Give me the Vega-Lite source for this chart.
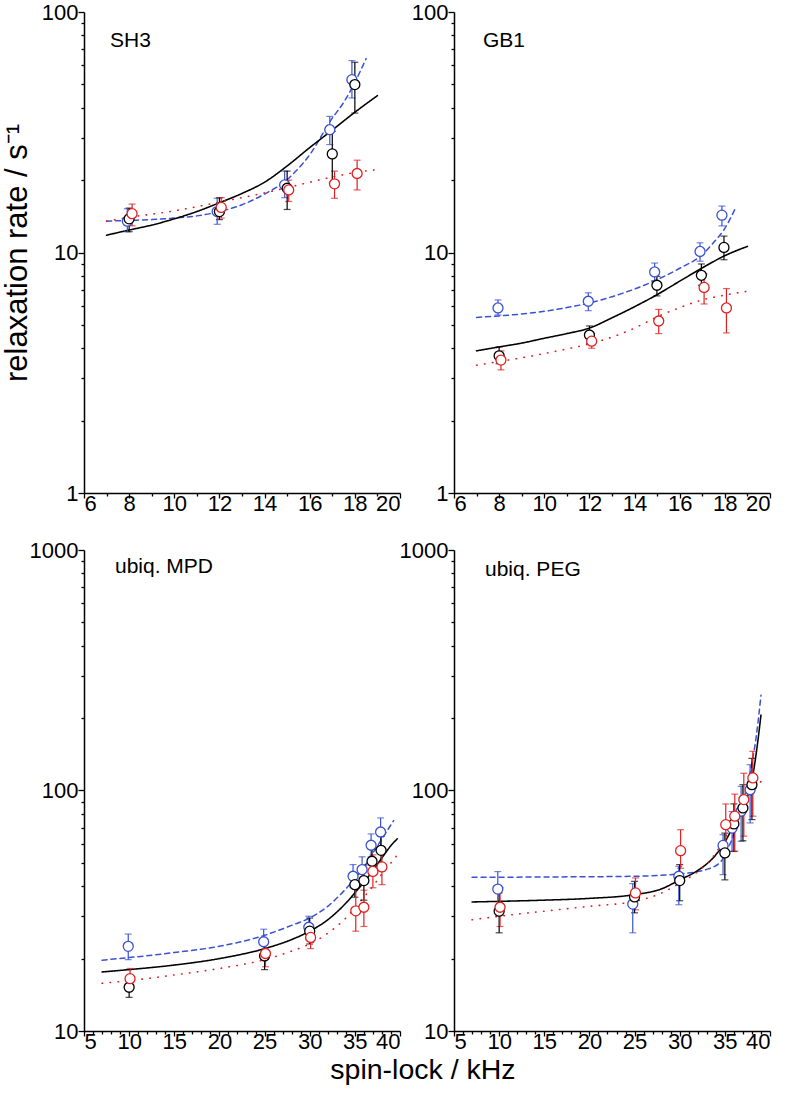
{
"$schema":"https://vega.github.io/schema/vega-lite/v6.json",
"padding":{"left":1,"top":1,"right":5,"bottom":5},
"config":{"view":{"stroke":null},"font":"Liberation Sans",
"axis":{"domainColor":"black","domainWidth":1.5,"tickColor":"black","tickWidth":1.3,"labelColor":"black","labelFont":"Liberation Sans","labelFontSize":22,"grid":false,"titleFont":"Liberation Sans","titleFontSize":31,"titleFontWeight":"normal","titleColor":"black","labelOverlap":false},
"axisX":{"labelPadding":-5},"axisY":{"labelPadding":0}},
"title":{"text":"spin-lock / kHz","orient":"bottom","anchor":"middle","offset":4,"dx":37,"fontSize":28.5,"font":"Liberation Sans","fontWeight":"normal","color":"black"},
"datasets":{
"fit":[
{"panel":"SH3","series":"blue","x":7,"y":13.5},{"panel":"SH3","series":"blue","x":8,"y":13.6},{"panel":"SH3","series":"blue","x":9,"y":13.7},{"panel":"SH3","series":"blue","x":10,"y":13.9},{"panel":"SH3","series":"blue","x":11,"y":14.2},{"panel":"SH3","series":"blue","x":12,"y":14.8},{"panel":"SH3","series":"blue","x":13,"y":15.8},{"panel":"SH3","series":"blue","x":14,"y":17.5},{"panel":"SH3","series":"blue","x":15,"y":20.1},{"panel":"SH3","series":"blue","x":16,"y":25.5},{"panel":"SH3","series":"blue","x":17,"y":36.2},{"panel":"SH3","series":"blue","x":17.5,"y":42},{"panel":"SH3","series":"blue","x":18,"y":51},{"panel":"SH3","series":"blue","x":18.5,"y":64},
{"panel":"SH3","series":"black","x":7,"y":11.8},{"panel":"SH3","series":"black","x":8,"y":12.4},{"panel":"SH3","series":"black","x":9,"y":13.0},{"panel":"SH3","series":"black","x":10,"y":13.8},{"panel":"SH3","series":"black","x":11,"y":14.8},{"panel":"SH3","series":"black","x":12,"y":16.1},{"panel":"SH3","series":"black","x":13,"y":17.6},{"panel":"SH3","series":"black","x":14,"y":19.6},{"panel":"SH3","series":"black","x":15,"y":22.9},{"panel":"SH3","series":"black","x":16,"y":27.3},{"panel":"SH3","series":"black","x":17,"y":32.3},{"panel":"SH3","series":"black","x":18,"y":38.3},{"panel":"SH3","series":"black","x":19,"y":44.9},
{"panel":"SH3","series":"red","x":7,"y":13.5},{"panel":"SH3","series":"red","x":8,"y":14.0},{"panel":"SH3","series":"red","x":10,"y":14.9},{"panel":"SH3","series":"red","x":12,"y":16.2},{"panel":"SH3","series":"red","x":14,"y":17.7},{"panel":"SH3","series":"red","x":15,"y":18.6},{"panel":"SH3","series":"red","x":16,"y":19.6},{"panel":"SH3","series":"red","x":17,"y":20.6},{"panel":"SH3","series":"red","x":18,"y":21.5},{"panel":"SH3","series":"red","x":19,"y":22.1},
{"panel":"GB1","series":"blue","x":7,"y":5.37},{"panel":"GB1","series":"blue","x":8,"y":5.45},{"panel":"GB1","series":"blue","x":9,"y":5.55},{"panel":"GB1","series":"blue","x":10,"y":5.7},{"panel":"GB1","series":"blue","x":11,"y":5.9},{"panel":"GB1","series":"blue","x":12,"y":6.17},{"panel":"GB1","series":"blue","x":13,"y":6.55},{"panel":"GB1","series":"blue","x":14,"y":7.05},{"panel":"GB1","series":"blue","x":15,"y":7.71},{"panel":"GB1","series":"blue","x":16,"y":8.6},{"panel":"GB1","series":"blue","x":17,"y":9.8},{"panel":"GB1","series":"blue","x":17.5,"y":11},{"panel":"GB1","series":"blue","x":18,"y":12.6},{"panel":"GB1","series":"blue","x":18.5,"y":15.5},
{"panel":"GB1","series":"black","x":7,"y":3.9},{"panel":"GB1","series":"black","x":8,"y":4.05},{"panel":"GB1","series":"black","x":9,"y":4.2},{"panel":"GB1","series":"black","x":10,"y":4.4},{"panel":"GB1","series":"black","x":11,"y":4.6},{"panel":"GB1","series":"black","x":12,"y":4.85},{"panel":"GB1","series":"black","x":13,"y":5.35},{"panel":"GB1","series":"black","x":14,"y":5.95},{"panel":"GB1","series":"black","x":15,"y":6.68},{"panel":"GB1","series":"black","x":16,"y":7.6},{"panel":"GB1","series":"black","x":17,"y":8.63},{"panel":"GB1","series":"black","x":18,"y":9.7},{"panel":"GB1","series":"black","x":19,"y":10.6},
{"panel":"GB1","series":"red","x":7,"y":3.4},{"panel":"GB1","series":"red","x":8,"y":3.52},{"panel":"GB1","series":"red","x":9,"y":3.65},{"panel":"GB1","series":"red","x":10,"y":3.8},{"panel":"GB1","series":"red","x":11,"y":3.97},{"panel":"GB1","series":"red","x":12,"y":4.17},{"panel":"GB1","series":"red","x":13,"y":4.45},{"panel":"GB1","series":"red","x":14,"y":4.85},{"panel":"GB1","series":"red","x":15,"y":5.4},{"panel":"GB1","series":"red","x":16,"y":5.9},{"panel":"GB1","series":"red","x":17,"y":6.35},{"panel":"GB1","series":"red","x":18,"y":6.65},{"panel":"GB1","series":"red","x":19,"y":6.9},
{"panel":"MPD","series":"blue","x":7,"y":19.7},{"panel":"MPD","series":"blue","x":10,"y":20.2},{"panel":"MPD","series":"blue","x":15,"y":21.2},{"panel":"MPD","series":"blue","x":20,"y":22.5},{"panel":"MPD","series":"blue","x":25,"y":25},{"panel":"MPD","series":"blue","x":28,"y":27.5},{"panel":"MPD","series":"blue","x":30,"y":29.5},{"panel":"MPD","series":"blue","x":32,"y":33},{"panel":"MPD","series":"blue","x":34,"y":39},{"panel":"MPD","series":"blue","x":35,"y":43},{"panel":"MPD","series":"blue","x":36,"y":48},{"panel":"MPD","series":"blue","x":37,"y":55},{"panel":"MPD","series":"blue","x":38,"y":63},{"panel":"MPD","series":"blue","x":39,"y":72},{"panel":"MPD","series":"blue","x":39.3,"y":75},
{"panel":"MPD","series":"black","x":7,"y":17.6},{"panel":"MPD","series":"black","x":10,"y":18},{"panel":"MPD","series":"black","x":15,"y":18.8},{"panel":"MPD","series":"black","x":20,"y":20},{"panel":"MPD","series":"black","x":25,"y":22},{"panel":"MPD","series":"black","x":28,"y":24},{"panel":"MPD","series":"black","x":30,"y":26},{"panel":"MPD","series":"black","x":32,"y":29},{"panel":"MPD","series":"black","x":34,"y":34},{"panel":"MPD","series":"black","x":35,"y":37.5},{"panel":"MPD","series":"black","x":36,"y":41.5},{"panel":"MPD","series":"black","x":37,"y":46.5},{"panel":"MPD","series":"black","x":38,"y":52.5},{"panel":"MPD","series":"black","x":39,"y":59},{"panel":"MPD","series":"black","x":39.7,"y":63},
{"panel":"MPD","series":"red","x":7,"y":15.8},{"panel":"MPD","series":"red","x":10,"y":16.2},{"panel":"MPD","series":"red","x":15,"y":17.1},{"panel":"MPD","series":"red","x":20,"y":18.2},{"panel":"MPD","series":"red","x":25,"y":19.8},{"panel":"MPD","series":"red","x":28,"y":21.5},{"panel":"MPD","series":"red","x":30,"y":23},{"panel":"MPD","series":"red","x":32,"y":25.5},{"panel":"MPD","series":"red","x":34,"y":29.5},{"panel":"MPD","series":"red","x":35,"y":32.5},{"panel":"MPD","series":"red","x":36,"y":36},{"panel":"MPD","series":"red","x":37,"y":40},{"panel":"MPD","series":"red","x":38,"y":45},{"panel":"MPD","series":"red","x":39,"y":50},{"panel":"MPD","series":"red","x":39.7,"y":54},
{"panel":"PEG","series":"blue","x":7,"y":43.6},{"panel":"PEG","series":"blue","x":10,"y":43.6},{"panel":"PEG","series":"blue","x":15,"y":43.7},{"panel":"PEG","series":"blue","x":20,"y":43.8},{"panel":"PEG","series":"blue","x":25,"y":44},{"panel":"PEG","series":"blue","x":30,"y":45},{"panel":"PEG","series":"blue","x":33,"y":47},{"panel":"PEG","series":"blue","x":34.6,"y":50.8},{"panel":"PEG","series":"blue","x":35,"y":54},{"panel":"PEG","series":"blue","x":36,"y":66},{"panel":"PEG","series":"blue","x":37,"y":88},{"panel":"PEG","series":"blue","x":38,"y":130},{"panel":"PEG","series":"blue","x":38.5,"y":170},{"panel":"PEG","series":"blue","x":39,"y":249},
{"panel":"PEG","series":"black","x":7,"y":34.4},{"panel":"PEG","series":"black","x":10,"y":34.6},{"panel":"PEG","series":"black","x":15,"y":35},{"panel":"PEG","series":"black","x":20,"y":35.6},{"panel":"PEG","series":"black","x":25,"y":36.9},{"panel":"PEG","series":"black","x":28,"y":39},{"panel":"PEG","series":"black","x":30,"y":42.5},{"panel":"PEG","series":"black","x":32,"y":46.5},{"panel":"PEG","series":"black","x":34,"y":54},{"panel":"PEG","series":"black","x":35,"y":61},{"panel":"PEG","series":"black","x":36,"y":72},{"panel":"PEG","series":"black","x":37,"y":86},{"panel":"PEG","series":"black","x":38,"y":110},{"panel":"PEG","series":"black","x":38.5,"y":145},{"panel":"PEG","series":"black","x":39,"y":206},
{"panel":"PEG","series":"red","x":7,"y":29},{"panel":"PEG","series":"red","x":10,"y":30},{"panel":"PEG","series":"red","x":15,"y":31.5},{"panel":"PEG","series":"red","x":20,"y":33},{"panel":"PEG","series":"red","x":25,"y":34.6},{"panel":"PEG","series":"red","x":28,"y":37.5},{"panel":"PEG","series":"red","x":30,"y":41.2},{"panel":"PEG","series":"red","x":32,"y":46},{"panel":"PEG","series":"red","x":34,"y":55},{"panel":"PEG","series":"red","x":35,"y":63.5},{"panel":"PEG","series":"red","x":36,"y":72},{"panel":"PEG","series":"red","x":37,"y":83},{"panel":"PEG","series":"red","x":38,"y":97},{"panel":"PEG","series":"red","x":39,"y":109}
],
"pts":[
{"panel":"SH3","series":"blue","x":7.92,"y":13.5,"lo":12.2,"hi":15.2},{"panel":"SH3","series":"blue","x":11.9,"y":14.8,"lo":13.1,"hi":16.8},{"panel":"SH3","series":"blue","x":14.89,"y":19.1,"lo":16.9,"hi":21.8},{"panel":"SH3","series":"blue","x":16.89,"y":32.4,"lo":28.1,"hi":36.8},{"panel":"SH3","series":"blue","x":17.87,"y":52.3,"lo":43.9,"hi":62.8},
{"panel":"SH3","series":"black","x":8.0,"y":13.8,"lo":12.2,"hi":15.3},{"panel":"SH3","series":"black","x":12.0,"y":14.8,"lo":13.7,"hi":16.9},{"panel":"SH3","series":"black","x":15.0,"y":18.5,"lo":15.1,"hi":21.8},{"panel":"SH3","series":"black","x":17.0,"y":25.7,"lo":19.5,"hi":31.9},{"panel":"SH3","series":"black","x":18.0,"y":49.9,"lo":38.0,"hi":61.8},
{"panel":"SH3","series":"red","x":8.13,"y":14.5,"lo":12.9,"hi":15.9},{"panel":"SH3","series":"red","x":12.08,"y":15.4,"lo":13.9,"hi":16.9},{"panel":"SH3","series":"red","x":15.07,"y":18.2,"lo":16.3,"hi":20.0},{"panel":"SH3","series":"red","x":17.1,"y":19.3,"lo":16.8,"hi":21.8},{"panel":"SH3","series":"red","x":18.1,"y":21.3,"lo":18.2,"hi":24.2},
{"panel":"GB1","series":"blue","x":7.95,"y":5.88,"lo":5.5,"hi":6.35},{"panel":"GB1","series":"blue","x":11.95,"y":6.27,"lo":5.73,"hi":6.8},{"panel":"GB1","series":"blue","x":14.89,"y":8.3,"lo":7.64,"hi":9.04},{"panel":"GB1","series":"blue","x":16.9,"y":10.1,"lo":9.2,"hi":10.97},{"panel":"GB1","series":"blue","x":17.87,"y":14.3,"lo":12.9,"hi":15.6},
{"panel":"GB1","series":"black","x":8.0,"y":3.72,"lo":3.45,"hi":4.05},{"panel":"GB1","series":"black","x":12.0,"y":4.54,"lo":4.2,"hi":4.95},{"panel":"GB1","series":"black","x":14.99,"y":7.31,"lo":6.6,"hi":7.96},{"panel":"GB1","series":"black","x":16.96,"y":8.04,"lo":7.31,"hi":8.96},{"panel":"GB1","series":"black","x":17.96,"y":10.5,"lo":9.33,"hi":11.7},
{"panel":"GB1","series":"red","x":8.08,"y":3.57,"lo":3.25,"hi":3.9},{"panel":"GB1","series":"red","x":12.1,"y":4.28,"lo":4.0,"hi":4.6},{"panel":"GB1","series":"red","x":15.07,"y":5.19,"lo":4.6,"hi":5.8},{"panel":"GB1","series":"red","x":17.08,"y":7.16,"lo":6.11,"hi":8.14},{"panel":"GB1","series":"red","x":18.07,"y":5.88,"lo":4.63,"hi":7.08},
{"panel":"MPD","series":"blue","x":9.9,"y":22.5,"lo":19.8,"hi":25.3},{"panel":"MPD","series":"blue","x":24.9,"y":23.5,"lo":21,"hi":26.5},{"panel":"MPD","series":"blue","x":29.9,"y":27,"lo":24,"hi":30},{"panel":"MPD","series":"blue","x":34.8,"y":44,"lo":39.5,"hi":49.2},{"panel":"MPD","series":"blue","x":35.8,"y":46.9,"lo":41.5,"hi":53},{"panel":"MPD","series":"blue","x":36.8,"y":59.2,"lo":53,"hi":66},{"panel":"MPD","series":"blue","x":37.85,"y":67.2,"lo":59,"hi":76.9},
{"panel":"MPD","series":"black","x":10,"y":15.2,"lo":13.8,"hi":16.8},{"panel":"MPD","series":"black","x":25,"y":20.5,"lo":18,"hi":23},{"panel":"MPD","series":"black","x":30,"y":26,"lo":23,"hi":29.5},{"panel":"MPD","series":"black","x":35,"y":40.6,"lo":36,"hi":45},{"panel":"MPD","series":"black","x":36,"y":42.2,"lo":35,"hi":49},{"panel":"MPD","series":"black","x":36.9,"y":50.8,"lo":45,"hi":57},{"panel":"MPD","series":"black","x":37.9,"y":56.4,"lo":49,"hi":64.4},
{"panel":"MPD","series":"red","x":10.1,"y":16.5,"lo":15,"hi":18.2},{"panel":"MPD","series":"red","x":25.1,"y":21,"lo":18.5,"hi":23.5},{"panel":"MPD","series":"red","x":30.1,"y":24.5,"lo":22,"hi":27.5},{"panel":"MPD","series":"red","x":35.1,"y":31.6,"lo":26,"hi":39.4},{"panel":"MPD","series":"red","x":36.0,"y":32.7,"lo":27.2,"hi":38.5},{"panel":"MPD","series":"red","x":37.0,"y":46.1,"lo":39.4,"hi":54},{"panel":"MPD","series":"red","x":38.0,"y":48.1,"lo":40.6,"hi":56.5},
{"panel":"PEG","series":"blue","x":9.85,"y":38.9,"lo":31.5,"hi":46},{"panel":"PEG","series":"blue","x":24.8,"y":33.7,"lo":25.6,"hi":41},{"panel":"PEG","series":"blue","x":29.9,"y":44,"lo":33.5,"hi":48.4},{"panel":"PEG","series":"blue","x":34.8,"y":59.1,"lo":44.7,"hi":65.5},{"panel":"PEG","series":"blue","x":35.8,"y":69.8,"lo":55.8,"hi":81.8},{"panel":"PEG","series":"blue","x":36.8,"y":82,"lo":61.5,"hi":104},{"panel":"PEG","series":"blue","x":37.8,"y":100.7,"lo":73.3,"hi":128},
{"panel":"PEG","series":"black","x":10.0,"y":31.5,"lo":25.6,"hi":37.5},{"panel":"PEG","series":"black","x":25.0,"y":36.1,"lo":31,"hi":41.9},{"panel":"PEG","series":"black","x":30.0,"y":42.2,"lo":34.8,"hi":49.2},{"panel":"PEG","series":"black","x":35.0,"y":55,"lo":42.5,"hi":66.5},{"panel":"PEG","series":"black","x":36.0,"y":72.6,"lo":55.8,"hi":88},{"panel":"PEG","series":"black","x":37.0,"y":84.6,"lo":61.8,"hi":105.7},{"panel":"PEG","series":"black","x":38.0,"y":105.7,"lo":75.7,"hi":136},
{"panel":"PEG","series":"red","x":10.1,"y":32.7,"lo":27.2,"hi":39.4},{"panel":"PEG","series":"red","x":25.1,"y":37.5,"lo":31.9,"hi":43.3},{"panel":"PEG","series":"red","x":30.1,"y":56.2,"lo":47.5,"hi":68.7},{"panel":"PEG","series":"red","x":35.1,"y":72.1,"lo":58.7,"hi":87.9},{"panel":"PEG","series":"red","x":36.1,"y":78.2,"lo":55.9,"hi":96.6},{"panel":"PEG","series":"red","x":37.1,"y":91.7,"lo":64.6,"hi":118},{"panel":"PEG","series":"red","x":38.1,"y":112.8,"lo":78.2,"hi":145.5}
]},
"columns":2,
"spacing":{"row":57,"column":54},
"bounds":"flush",
"concat":[
{"width":316,"height":481,
"title":{"text":"SH3","anchor":"start","frame":"group","orient":"top","offset":-67,"dx":26,"baseline":"alphabetic","fontSize":21,"fontWeight":"normal","font":"Liberation Sans","color":"black"},
"encoding":{
"x":{"field":"x","type":"quantitative","scale":{"domain":[6,20],"nice":false,"zero":false},"axis":{"title":null,"values":[6,7,8,9,10,11,12,13,14,15,16,17,18,19,20],"labelExpr":"datum.value % 2 == 0 ? datum.label : ''","tickSize":{"condition":{"test":"datum.value % 2 == 0","value":5},"value":3}}},
"y":{"field":"y","type":"quantitative","scale":{"type":"log","domain":[1,100],"nice":false},"axis":{"title":"relaxation rate / s\u207b\u00b9","titlePadding":8,"values":[1,2,3,4,5,6,7,8,9,10,20,30,40,50,60,70,80,90,100],"labelExpr":"indexof([1,10,100], datum.value) >= 0 ? format(datum.value, 'd') : ''","tickSize":{"condition":{"test":"indexof([1,10,100], datum.value) >= 0","value":6},"value":3}}},
"color":{"field":"series","type":"nominal","scale":{"domain":["blue","black","red"],"range":["#3a52d0","#000000","#e02020"]},"legend":null}},
"layer":[
{"data":{"name":"fit"},"transform":[{"filter":"datum.panel == 'SH3'"}],"mark":{"type":"line","interpolate":"monotone","strokeCap":"round"},"encoding":{"strokeDash":{"field":"series","type":"nominal","scale":{"domain":["blue","black","red"],"range":[[5,4],[1,0],[0.5,7.5]]},"legend":null},"strokeWidth":{"field":"series","type":"nominal","scale":{"domain":["blue","black","red"],"range":[1.5,1.6,3]},"legend":null}}},
{"data":{"name":"pts"},"transform":[{"filter":"datum.panel == 'SH3'"}],"mark":{"type":"errorbar","ticks":{"size":7},"thickness":1.2},"encoding":{"y":{"field":"lo","type":"quantitative"},"y2":{"field":"hi"}}},
{"data":{"name":"pts"},"transform":[{"filter":"datum.panel == 'SH3'"}],"mark":{"type":"point","shape":"circle","filled":false,"fill":"white","fillOpacity":1,"size":100,"strokeWidth":1.3}}
]},
{"width":316,"height":481,
"title":{"text":"GB1","anchor":"start","frame":"group","orient":"top","offset":-67,"dx":29,"baseline":"alphabetic","fontSize":21,"fontWeight":"normal","font":"Liberation Sans","color":"black"},
"encoding":{
"x":{"field":"x","type":"quantitative","scale":{"domain":[6,20],"nice":false,"zero":false},"axis":{"title":null,"values":[6,7,8,9,10,11,12,13,14,15,16,17,18,19,20],"labelExpr":"datum.value % 2 == 0 ? datum.label : ''","tickSize":{"condition":{"test":"datum.value % 2 == 0","value":5},"value":3}}},
"y":{"field":"y","type":"quantitative","scale":{"type":"log","domain":[1,100],"nice":false},"axis":{"title":null,"values":[1,2,3,4,5,6,7,8,9,10,20,30,40,50,60,70,80,90,100],"labelExpr":"indexof([1,10,100], datum.value) >= 0 ? format(datum.value, 'd') : ''","tickSize":{"condition":{"test":"indexof([1,10,100], datum.value) >= 0","value":6},"value":3}}},
"color":{"field":"series","type":"nominal","scale":{"domain":["blue","black","red"],"range":["#3a52d0","#000000","#e02020"]},"legend":null}},
"layer":[
{"data":{"name":"fit"},"transform":[{"filter":"datum.panel == 'GB1'"}],"mark":{"type":"line","interpolate":"monotone","strokeCap":"round"},"encoding":{"strokeDash":{"field":"series","type":"nominal","scale":{"domain":["blue","black","red"],"range":[[5,4],[1,0],[0.5,7.5]]},"legend":null},"strokeWidth":{"field":"series","type":"nominal","scale":{"domain":["blue","black","red"],"range":[1.5,1.6,3]},"legend":null}}},
{"data":{"name":"pts"},"transform":[{"filter":"datum.panel == 'GB1'"}],"mark":{"type":"errorbar","ticks":{"size":7},"thickness":1.2},"encoding":{"y":{"field":"lo","type":"quantitative"},"y2":{"field":"hi"}}},
{"data":{"name":"pts"},"transform":[{"filter":"datum.panel == 'GB1'"}],"mark":{"type":"point","shape":"circle","filled":false,"fill":"white","fillOpacity":1,"size":100,"strokeWidth":1.3}}
]},
{"width":316,"height":481,
"title":{"text":"ubiq. MPD","anchor":"start","frame":"group","orient":"top","offset":-55,"dx":31,"baseline":"alphabetic","fontSize":21,"fontWeight":"normal","font":"Liberation Sans","color":"black"},
"encoding":{
"x":{"field":"x","type":"quantitative","scale":{"domain":[5,40],"nice":false,"zero":false},"axis":{"title":null,"values":[5,6,7,8,9,10,11,12,13,14,15,16,17,18,19,20,21,22,23,24,25,26,27,28,29,30,31,32,33,34,35,36,37,38,39,40],"labelExpr":"datum.value % 5 == 0 ? datum.label : ''","tickSize":{"condition":{"test":"datum.value % 5 == 0","value":5},"value":3}}},
"y":{"field":"y","type":"quantitative","scale":{"type":"log","domain":[10,1000],"nice":false},"axis":{"title":null,"values":[10,20,30,40,50,60,70,80,90,100,200,300,400,500,600,700,800,900,1000],"labelExpr":"indexof([10,100,1000], datum.value) >= 0 ? format(datum.value, 'd') : ''","tickSize":{"condition":{"test":"indexof([10,100,1000], datum.value) >= 0","value":6},"value":3}}},
"color":{"field":"series","type":"nominal","scale":{"domain":["blue","black","red"],"range":["#3a52d0","#000000","#e02020"]},"legend":null}},
"layer":[
{"data":{"name":"fit"},"transform":[{"filter":"datum.panel == 'MPD'"}],"mark":{"type":"line","interpolate":"monotone","strokeCap":"round"},"encoding":{"strokeDash":{"field":"series","type":"nominal","scale":{"domain":["blue","black","red"],"range":[[5,4],[1,0],[0.5,7.5]]},"legend":null},"strokeWidth":{"field":"series","type":"nominal","scale":{"domain":["blue","black","red"],"range":[1.5,1.6,3]},"legend":null}}},
{"data":{"name":"pts"},"transform":[{"filter":"datum.panel == 'MPD'"}],"mark":{"type":"errorbar","ticks":{"size":7},"thickness":1.2},"encoding":{"y":{"field":"lo","type":"quantitative"},"y2":{"field":"hi"}}},
{"data":{"name":"pts"},"transform":[{"filter":"datum.panel == 'MPD'"}],"mark":{"type":"point","shape":"circle","filled":false,"fill":"white","fillOpacity":1,"size":100,"strokeWidth":1.3}}
]},
{"width":316,"height":481,
"title":{"text":"ubiq. PEG","anchor":"start","frame":"group","orient":"top","offset":-58,"dx":31,"baseline":"alphabetic","fontSize":21,"fontWeight":"normal","font":"Liberation Sans","color":"black"},
"encoding":{
"x":{"field":"x","type":"quantitative","scale":{"domain":[5,40],"nice":false,"zero":false},"axis":{"title":null,"values":[5,6,7,8,9,10,11,12,13,14,15,16,17,18,19,20,21,22,23,24,25,26,27,28,29,30,31,32,33,34,35,36,37,38,39,40],"labelExpr":"datum.value % 5 == 0 ? datum.label : ''","tickSize":{"condition":{"test":"datum.value % 5 == 0","value":5},"value":3}}},
"y":{"field":"y","type":"quantitative","scale":{"type":"log","domain":[10,1000],"nice":false},"axis":{"title":null,"values":[10,20,30,40,50,60,70,80,90,100,200,300,400,500,600,700,800,900,1000],"labelExpr":"indexof([10,100,1000], datum.value) >= 0 ? format(datum.value, 'd') : ''","tickSize":{"condition":{"test":"indexof([10,100,1000], datum.value) >= 0","value":6},"value":3}}},
"color":{"field":"series","type":"nominal","scale":{"domain":["blue","black","red"],"range":["#3a52d0","#000000","#e02020"]},"legend":null}},
"layer":[
{"data":{"name":"fit"},"transform":[{"filter":"datum.panel == 'PEG'"}],"mark":{"type":"line","interpolate":"monotone","strokeCap":"round"},"encoding":{"strokeDash":{"field":"series","type":"nominal","scale":{"domain":["blue","black","red"],"range":[[5,4],[1,0],[0.5,7.5]]},"legend":null},"strokeWidth":{"field":"series","type":"nominal","scale":{"domain":["blue","black","red"],"range":[1.5,1.6,3]},"legend":null}}},
{"data":{"name":"pts"},"transform":[{"filter":"datum.panel == 'PEG'"}],"mark":{"type":"errorbar","ticks":{"size":7},"thickness":1.2},"encoding":{"y":{"field":"lo","type":"quantitative"},"y2":{"field":"hi"}}},
{"data":{"name":"pts"},"transform":[{"filter":"datum.panel == 'PEG'"}],"mark":{"type":"point","shape":"circle","filled":false,"fill":"white","fillOpacity":1,"size":100,"strokeWidth":1.3}}
]}
]
}
